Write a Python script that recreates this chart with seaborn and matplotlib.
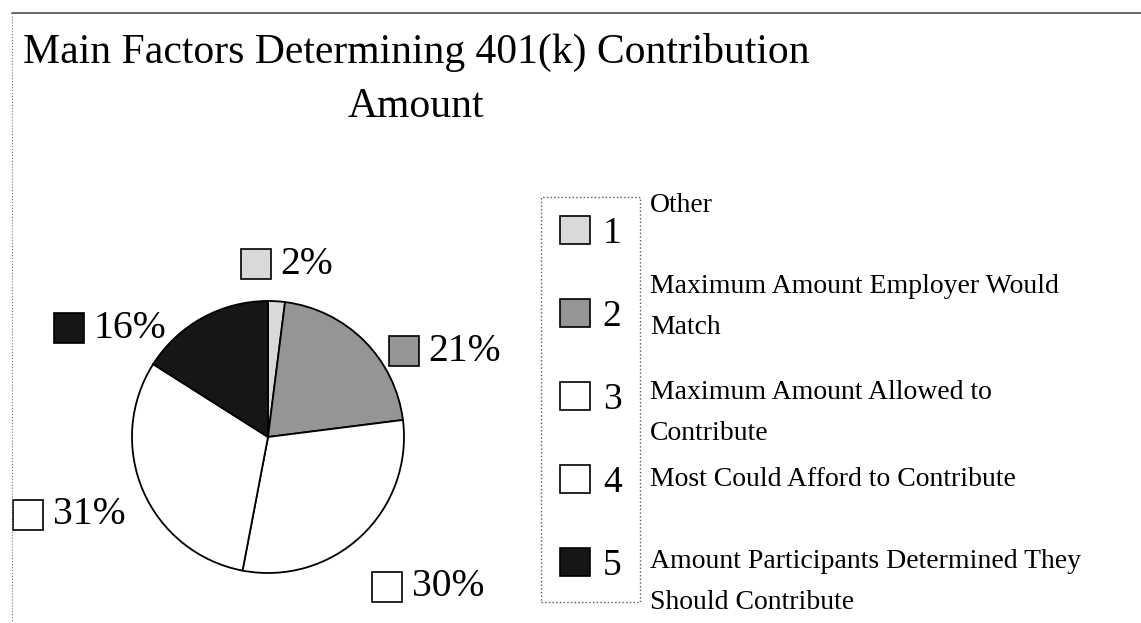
import matplotlib.pyplot as plt
import seaborn as sns
from matplotlib.patches import Patch, Rectangle
from matplotlib.lines import Line2D
from matplotlib.offsetbox import AnnotationBbox, DrawingArea, HPacker, TextArea

# data
codes = ["1", "2", "3", "4", "5"]
categories = [
    "Other",
    "Maximum Amount Employer Would\nMatch",
    "Maximum Amount Allowed to\nContribute",
    "Most Could Afford to Contribute",
    "Amount Participants Determined They\nShould Contribute",
]
shares = [2, 21, 30, 31, 16]
shades = ["#d9d9d9", "#959595", "#ffffff", "#ffffff", "#161616"]

sns.set_theme(style="white")
plt.rcParams["font.family"] = ["Liberation Serif", "DejaVu Serif"]
plt.rcParams["text.color"] = "black"

W, H = 1141, 623
fig = plt.figure(figsize=(W / 100, H / 100), dpi=100)
fig.patch.set_facecolor("white")


def px(x, y):
    return x / W, 1 - y / H


# pie placed by pixel centre / radius
cx, cy, r = 268, 437, 136
ax = fig.add_axes([(cx - r) / W, 1 - (cy + r) / H, 2 * r / W, 2 * r / H])
ax.pie(
    shares,
    colors=shades,
    startangle=90,
    counterclock=False,
    wedgeprops=dict(edgecolor="black", linewidth=1.3),
)
ax.set_xlim(-1, 1)
ax.set_ylim(-1, 1)

# percent labels with a little swatch, offsets in pie radius units
label_offsets = [(0.14, 1.27), (1.30, 0.63), (1.18, -1.10), (-1.46, -0.57), (-1.16, 0.80)]
for v, c, (dx, dy) in zip(shares, shades, label_offsets):
    sw = DrawingArea(21.6, 21.6)
    sw.add_artist(Rectangle((0, 0), 21.6, 21.6, facecolor=c, edgecolor="black", lw=1.2))
    txt = TextArea(f"{v}%", textprops=dict(fontsize=28.5, color="black"))
    pack = HPacker(children=[sw, txt], align="center", pad=0, sep=7)
    ab = AnnotationBbox(pack, (dx, dy), xycoords="data", frameon=False,
                        box_alignment=(0.5, 0.5), annotation_clip=False)
    ax.add_artist(ab)

# legend box with numbers
handles = [Patch(facecolor=c, edgecolor="black", linewidth=1.2) for c in shades]
leg = fig.legend(
    handles, codes,
    loc="upper left", bbox_to_anchor=px(541, 197),
    fontsize=27, handlelength=0.8, handleheight=0.8, handletextpad=0.35,
    labelspacing=1.27, borderpad=0.5, borderaxespad=0,
    fancybox=False, frameon=True, framealpha=1,
)
leg.get_frame().set_edgecolor("0.35")
leg.get_frame().set_linestyle(":")
leg.get_frame().set_linewidth(1.0)
for t in leg.get_texts():
    t.set_color("black")

# category names next to the legend
text_y = [206, 307, 413, 480, 582]
for name, y in zip(categories, text_y):
    fig.text(*px(650, y), name, fontsize=20, va="center", ha="left",
             linespacing=1.84, color="black")

# title
fig.text(*px(416, 63), "Main Factors Determining 401(k) Contribution",
         ha="center", va="baseline", fontsize=30, color="black")
fig.text(*px(416, 117), "Amount", ha="center", va="baseline", fontsize=30, color="black")

# scanned frame edges
fig.add_artist(Line2D([12 / W, 1], [1 - 13 / H] * 2, color="0.3", lw=1.2))
fig.add_artist(Line2D([12 / W] * 2, [1 - 13 / H, 0], color="0.45", lw=0.8, linestyle=":"))

fig.savefig("out.png", dpi=100)
